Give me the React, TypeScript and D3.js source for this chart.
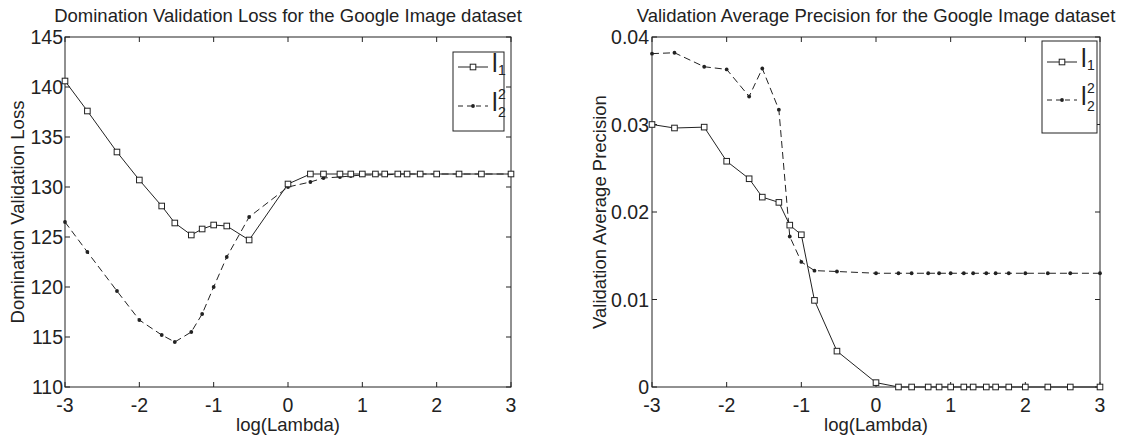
import React from 'react';
import * as d3 from 'd3';

// lambda values used for the sweep (plotted as log10)
const lambdas = [0.001, 0.002, 0.005, 0.01, 0.02, 0.03, 0.05, 0.07, 0.1, 0.15, 0.3, 1, 2, 3, 5, 7, 10, 15, 20, 30, 40, 60, 100, 200, 400, 1000];

// domination validation loss
const lossL1 = [140.6, 137.6, 133.5, 130.7, 128.1, 126.4, 125.2, 125.8, 126.2, 126.1, 124.7, 130.3, 131.3, 131.3, 131.3, 131.3, 131.3, 131.3, 131.3, 131.3, 131.3, 131.3, 131.3, 131.3, 131.3, 131.3];
const lossL2 = [126.5, 123.5, 119.6, 116.7, 115.2, 114.5, 115.5, 117.3, 120.0, 123.0, 127.0, 130.0, 130.5, 130.9, 131.0, 131.1, 131.2, 131.2, 131.2, 131.3, 131.3, 131.3, 131.3, 131.3, 131.3, 131.3];

// validation average precision
const apL1 = [0.0300, 0.0296, 0.0297, 0.0258, 0.0238, 0.0217, 0.0211, 0.0185, 0.0174, 0.0099, 0.0041, 0.0005, 0, 0, 0, 0, 0, 0, 0, 0, 0, 0, 0, 0, 0, 0];
const apL2 = [0.0381, 0.0382, 0.0366, 0.0363, 0.0332, 0.0364, 0.0317, 0.0172, 0.0143, 0.0133, 0.0132, 0.0130, 0.0130, 0.0130, 0.0130, 0.0130, 0.0130, 0.0130, 0.0130, 0.0130, 0.0130, 0.0130, 0.0130, 0.0130, 0.0130, 0.0130];

const xTicks = [-3, -2, -1, 0, 1, 2, 3];
const lossTicks = [110, 115, 120, 125, 130, 135, 140, 145];
const apTicks = [0, 0.01, 0.02, 0.03, 0.04];

const FONT = '"Liberation Sans", Arial, Helvetica, sans-serif';
const INK = '#222';

const logLambda = lambdas.map(l => Math.log10(l));

type PanelProps = {
  left: number;
  right: number;
  title: string;
  yLabel: string;
  yLabelX: number;
  yDomain: [number, number];
  yTicks: number[];
  yFmt: (v: number) => string;
  labelGap: number;
  s1: number[];
  s2: number[];
  legend: { x: number; y: number; w: number; h: number; r1: number; r2: number };
};

const Panel = ({ left, right, title, yLabel, yLabelX, yDomain, yTicks, yFmt, labelGap, s1, s2, legend }: PanelProps) => {
  const top = 37;
  const bottom = 387;
  const x = d3.scaleLinear().domain([-3, 3]).range([left, right]);
  const y = d3.scaleLinear().domain(yDomain).range([bottom, top]);
  const line = d3.line<number>().x((d, i) => x(logLambda[i])).y(d => y(d));
  const tk = 5;

  return (
    <g fontFamily={FONT} fill={INK}>
      <text x={(left + right) / 2} y={22} textAnchor="middle" fontSize={18.5}>{title}</text>
      <rect x={left} y={top} width={right - left} height={bottom - top} fill="none" stroke={INK} strokeWidth={1} />
      {xTicks.map(t => (
        <g key={'x' + t}>
          <line x1={x(t)} x2={x(t)} y1={bottom} y2={bottom - tk} stroke={INK} />
          <line x1={x(t)} x2={x(t)} y1={top} y2={top + tk} stroke={INK} />
          <text x={x(t)} y={412} textAnchor="middle" fontSize={19.5}>{t}</text>
        </g>
      ))}
      {yTicks.map(t => (
        <g key={'y' + t}>
          <line x1={left} x2={left + tk} y1={y(t)} y2={y(t)} stroke={INK} />
          <line x1={right} x2={right - tk} y1={y(t)} y2={y(t)} stroke={INK} />
          <text x={left - labelGap} y={y(t) + 7} textAnchor="end" fontSize={19.5}>{yFmt(t)}</text>
        </g>
      ))}
      <text x={(left + right) / 2} y={431} textAnchor="middle" fontSize={18.5}>log(Lambda)</text>
      <text transform={`translate(${yLabelX},${(top + bottom) / 2}) rotate(-90)`} textAnchor="middle" fontSize={18.5}>{yLabel}</text>

      <path d={line(s2) || ''} fill="none" stroke={INK} strokeWidth={1} strokeDasharray="7,4" />
      {s2.map((v, i) => (
        <circle key={'b' + i} cx={x(logLambda[i])} cy={y(v)} r={1.9} fill={INK} />
      ))}
      <path d={line(s1) || ''} fill="none" stroke={INK} strokeWidth={1} />
      {s1.map((v, i) => (
        <rect key={'a' + i} x={x(logLambda[i]) - 2.8} y={y(v) - 2.8} width={5.6} height={5.6} fill="#fff" stroke={INK} strokeWidth={1} />
      ))}

      <g transform={`translate(${legend.x},${legend.y})`}>
        <rect x={0} y={0} width={legend.w} height={legend.h} fill="#fff" stroke={INK} strokeWidth={1} />
        <line x1={5} x2={35} y1={legend.r1} y2={legend.r1} stroke={INK} />
        <rect x={17.2} y={legend.r1 - 2.8} width={5.6} height={5.6} fill="#fff" stroke={INK} />
        <text x={39} y={legend.r1 + 5} fontSize={25}>l</text>
        <text x={45} y={legend.r1 + 8} fontSize={14}>1</text>
        <line x1={5} x2={35} y1={legend.r2} y2={legend.r2} stroke={INK} strokeDasharray="5,4" />
        <circle cx={20} cy={legend.r2} r={1.9} fill={INK} />
        <text x={39} y={legend.r2 + 5} fontSize={25}>l</text>
        <text x={45} y={legend.r2 - 7} fontSize={14}>2</text>
        <text x={45} y={legend.r2 + 11} fontSize={14}>2</text>
      </g>
    </g>
  );
};

export default function App() {
  return (
    <svg width={1125} height={437} style={{ position: 'absolute', left: 0, top: 0, background: '#fff' }}>
      <Panel
        left={65}
        right={511}
        title="Domination Validation Loss for the Google Image dataset"
        yLabel="Domination Validation Loss"
        yLabelX={24}
        yDomain={[110, 145]}
        yTicks={lossTicks}
        yFmt={v => String(v)}
        labelGap={2}
        s1={lossL1}
        s2={lossL2}
        legend={{ x: 453, y: 52, w: 51, h: 79, r1: 15, r2: 54 }}
      />
      <Panel
        left={652}
        right={1100}
        title="Validation Average Precision for the Google Image dataset"
        yLabel="Validation Average Precision"
        yLabelX={606}
        yDomain={[0, 0.04]}
        yTicks={apTicks}
        yFmt={v => (v === 0 ? '0' : d3.format('.2f')(v))}
        labelGap={3}
        s1={apL1}
        s2={apL2}
        legend={{ x: 1042, y: 41, w: 55, h: 92, r1: 21, r2: 59 }}
      />
    </svg>
  );
}
